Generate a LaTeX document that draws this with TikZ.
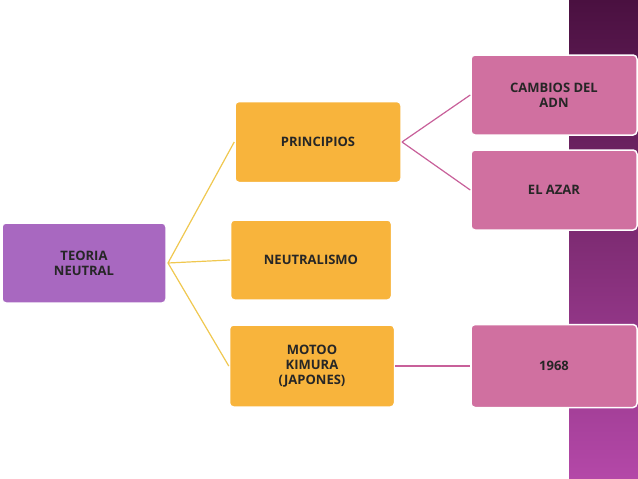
\documentclass[tikz,border=0pt]{standalone}
\usepackage{fontspec}
\setmainfont{Open Sans}
\definecolor{tp}{HTML}{A868C0}
\definecolor{og}{HTML}{F8B43C}
\definecolor{pk}{HTML}{D070A0}
\definecolor{sTop}{HTML}{4A1040}
\definecolor{sBot}{HTML}{B448A8}
\definecolor{yl}{HTML}{F0C850}
\definecolor{pl}{HTML}{C8609A}
\begin{document}
\begin{tikzpicture}[x=1pt,y=-1pt,
 bx/.style={draw=white,line width=1.5pt,rounded corners=4pt,inner sep=0pt,align=center,font=\bfseries\fontsize{13}{15}\selectfont,text=black!85},
 yline/.style={draw=yl,line width=1.2pt},
 pline/.style={draw=pl,line width=1.2pt}]
\useasboundingbox (0,0) rectangle (638,479);
\fill[white] (0,0) rectangle (638,479);
\shade[top color=sTop,bottom color=sBot] (569,0) rectangle (638,479);
\node[bx,fill=tp,minimum width=164pt,minimum height=80pt] (t) at (84,263) {TEORIA\\NEUTRAL};
\node[bx,fill=og,minimum width=166pt,minimum height=81pt] (p) at (318,142) {PRINCIPIOS};
\node[bx,fill=og,minimum width=161pt,minimum height=80pt] (n) at (311,260) {NEUTRALISMO};
\node[bx,fill=og,minimum width=165pt,minimum height=82pt] (m) at (312,366) {MOTOO\\KIMURA\\(JAPONES)};
\node[bx,fill=pk,minimum width=166pt,minimum height=80pt] (c) at (554,95) {CAMBIOS DEL\\ADN};
\node[bx,fill=pk,minimum width=166pt,minimum height=80pt] (e) at (554,190) {EL AZAR};
\node[bx,fill=pk,minimum width=166pt,minimum height=83pt] (y) at (554,366) {1968};
\coordinate (tj) at (168,263);
\draw[yline] (tj) -- (p.west);
\draw[yline] (tj) -- (n.west);
\draw[yline] (tj) -- (m.west);
\coordinate (pj) at (402,142);
\draw[pline] (pj) -- (c.west);
\draw[pline] (pj) -- (e.west);
\draw[pline] (m.east) -- (y.west);
\end{tikzpicture}
\end{document}
